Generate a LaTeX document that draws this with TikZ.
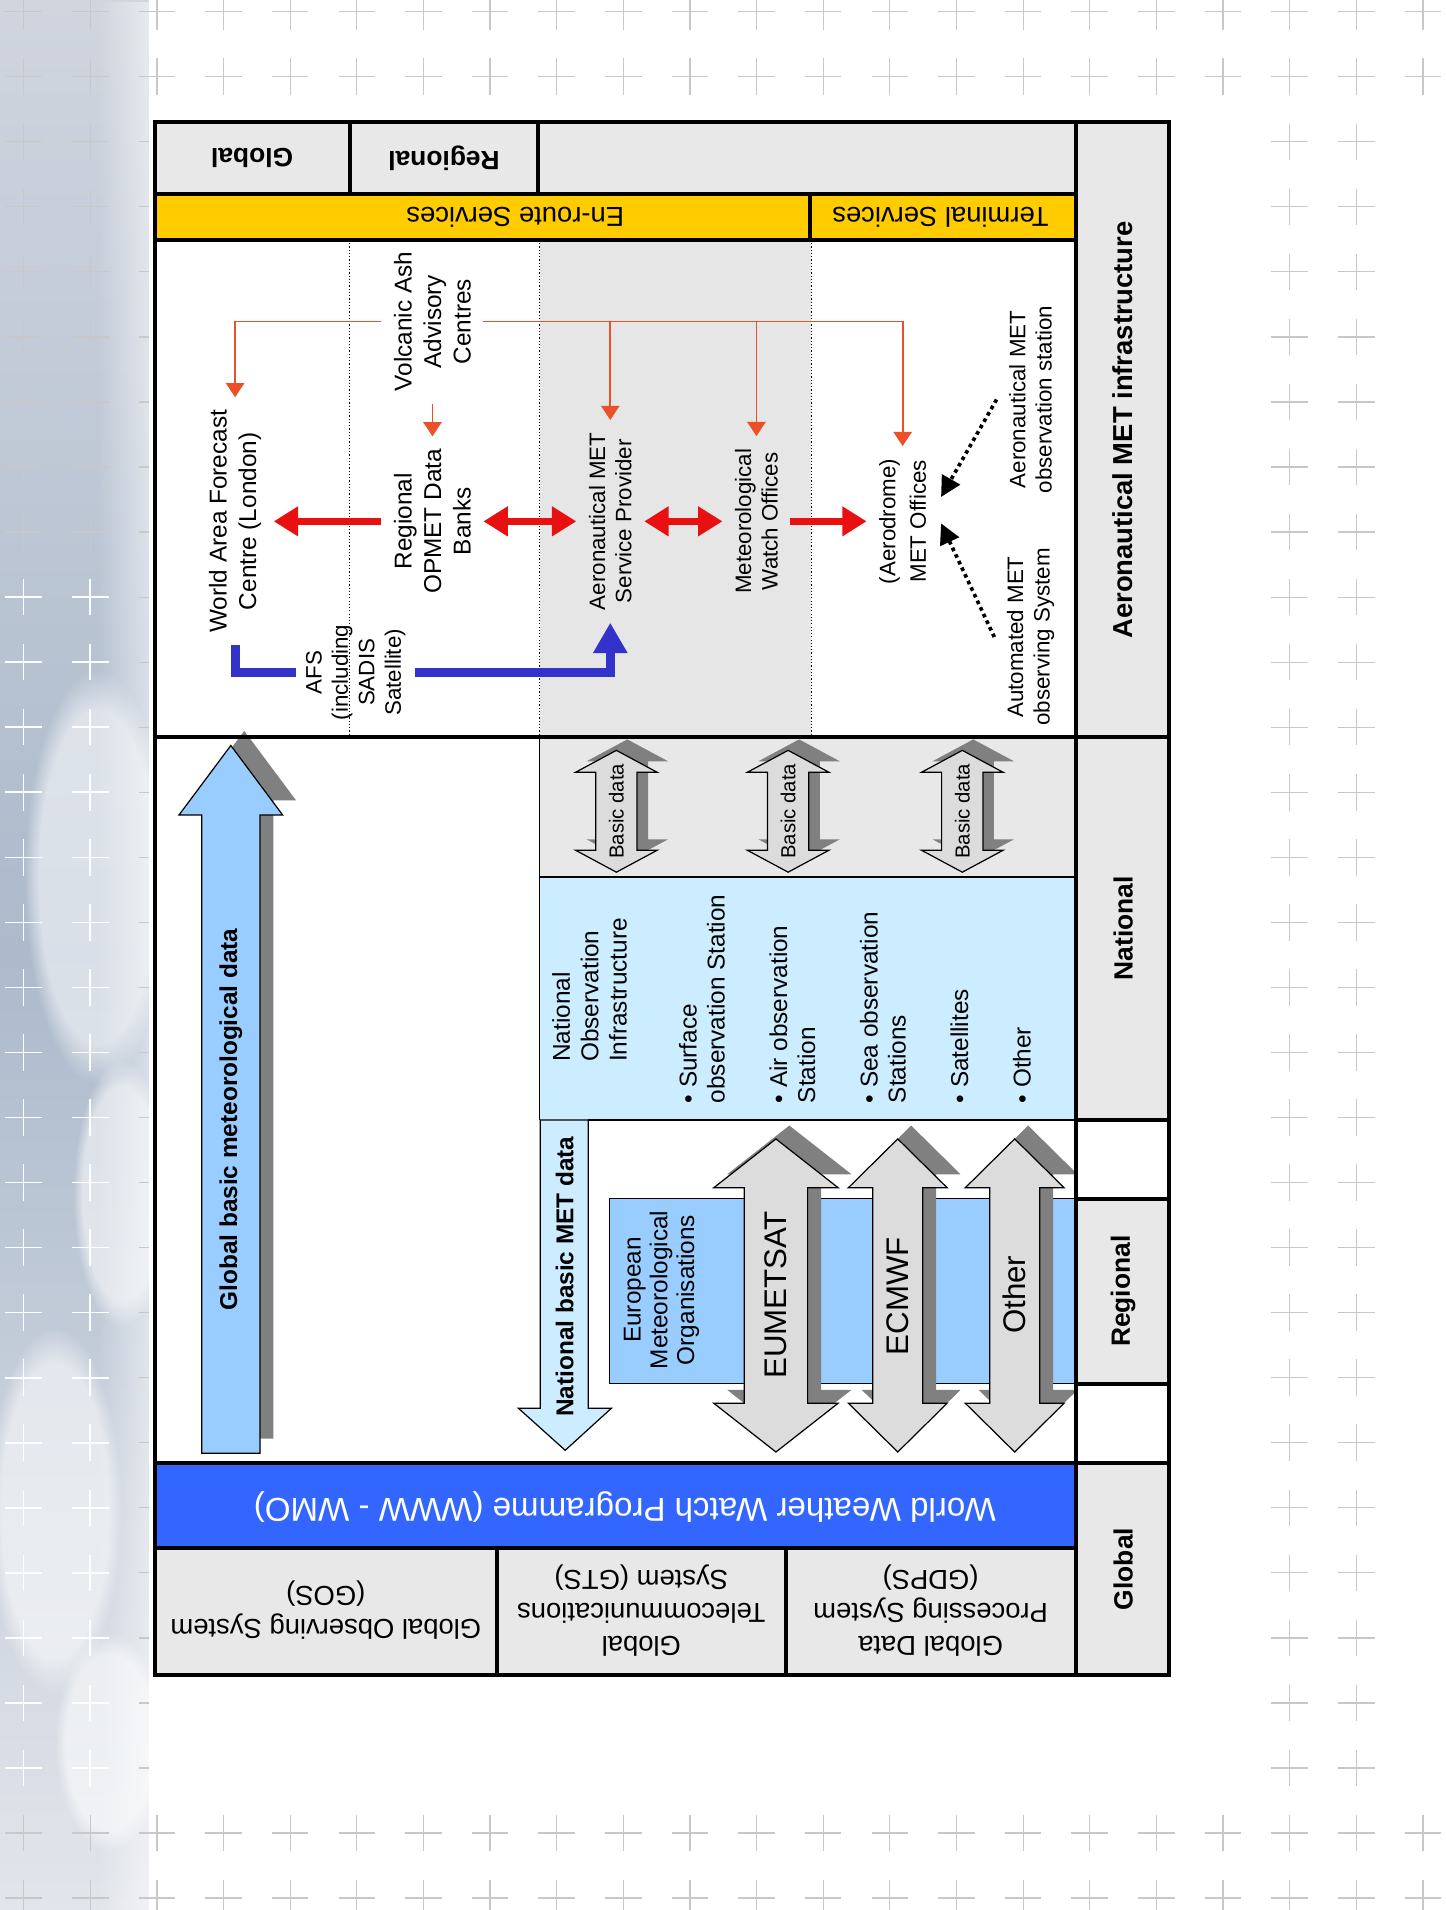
\documentclass[tikz,border=0pt]{standalone}
\usepackage{fontspec}
\setmainfont{Liberation Sans}
\usetikzlibrary{arrows.meta,calc,fadings}

\definecolor{cellgray}{RGB}{232,232,232}
\definecolor{zonegray}{RGB}{230,230,230}
\definecolor{lightsky}{RGB}{204,236,255}
\definecolor{midsky}{RGB}{153,204,255}
\definecolor{wwwblue}{RGB}{51,102,255}
\definecolor{servyellow}{RGB}{255,204,0}
\definecolor{arrowgray}{RGB}{220,220,220}
\definecolor{shadowgray}{RGB}{128,128,128}
\definecolor{thickred}{RGB}{232,16,16}
\definecolor{ashred}{RGB}{236,80,40}
\definecolor{afsblue}{RGB}{51,51,204}
\definecolor{crossgray}{RGB}{200,200,200}
\definecolor{stripTop}{RGB}{208,213,222}
\definecolor{stripMid}{RGB}{172,186,204}
\definecolor{stripBottom}{RGB}{226,229,235}

% double block arrow: centre x, top tip, bottom tip, half shaft, half head, head length
\newcommand{\dblblock}[6]{(#1,#2) -- ++(#5,#6) -- ++(#4-#5,0) -- (#1+#4,#3-#6) -- ++(#5-#4,0) -- (#1,#3) -- ++(-#5,-#6) -- ++(#5-#4,0) -- (#1-#4,#2+#6) -- ++(#4-#5,0) -- cycle}

\tikzset{
  cellrule/.style={line width=2pt},
  thinrule/.style={line width=0.6pt},
  zoneline/.style={line width=0.6pt, densely dotted},
  celltext/.style={font=\fontsize{13.5}{16.2}\selectfont, align=center},
  sidelabel/.style={rotate=90, font=\bfseries\fontsize{13}{15.6}\selectfont},
  textunit/.style={rotate=90, align=center, inner sep=6pt, font=\fontsize{12}{14.5}\selectfont},
  smallunit/.style={textunit, font=\fontsize{11}{13}\selectfont},
  redlink/.style={thickred, line width=3.3pt, -{Triangle[length=12pt,width=14pt]}},
  redboth/.style={redlink, {Triangle[length=12pt,width=14pt]}-{Triangle[length=12pt,width=14pt]}},
  ashlink/.style={ashred, line width=0.9pt, -{Triangle[length=7pt,width=9pt]}},
  afslink/.style={afsblue, line width=4.5pt},
  obslink/.style={black, line width=1.8pt, dash pattern=on 1.8pt off 1.8pt, -{Triangle[length=10pt,width=10pt]}},
  blockarrow/.style={draw=black, line width=0.6pt},
  dropgray/.style={fill=shadowgray},
  crossmark/.style={crossgray, line width=0.6pt},
  cloud/.style={white, opacity=0.55, path fading=circle with fuzzy edge 20 percent},
}

\begin{document}
\begin{tikzpicture}[x=0.6pt,y=-0.6pt]
\useasboundingbox (0,0) rectangle (1187,1568);

% page background
\fill[white] (0,0) rectangle (1187,1568);
\shade[top color=stripTop, bottom color=stripMid] (0,0) rectangle (122,784);
\shade[top color=stripMid, bottom color=stripBottom] (0,784) rectangle (122,1568);
\fill[cloud] (80,720) ellipse (60 and 170);
\fill[cloud] (100,980) ellipse (40 and 110);
\fill[cloud] (45,1240) ellipse (55 and 150);
\fill[cloud] (90,1430) ellipse (45 and 90);
\fill[white, opacity=0.5, path fading=west] (80,0) rectangle (122,1568);
\foreach \i in {0,...,21}
  \foreach \j in {0,...,29}
    \draw[crossmark] (19.4+54.7*\i-15,9.6+53.4*\j) -- ++(30,0) (19.4+54.7*\i,9.6+53.4*\j-15) -- ++(0,30);
\foreach \i in {0,1}
  \foreach \j in {9,...,27}
    \draw[white, line width=0.8pt] (19.4+54.7*\i-15,9.6+53.4*\j) -- ++(30,0) (19.4+54.7*\i,9.6+53.4*\j-15) -- ++(0,30);
\fill[white] (122,88) rectangle (1032,1483);
\fill[white] (1140,88) rectangle (1187,1483);

% cell fills
\fill[cellgray] (127,100) rectangle (883,159);
\fill[servyellow] (127,159) rectangle (883,197);
\fill[zonegray] (443,197) rectangle (666,605);
\fill[cellgray] (883,100) rectangle (960,605);
\fill[cellgray] (883,605) rectangle (960,919.5);
\fill[cellgray] (883,984) rectangle (960,1136);
\fill[cellgray] (883,1201) rectangle (960,1375);
\fill[cellgray] (443,605) rectangle (883,720);
\fill[lightsky] (443,720) rectangle (883,919.5);
\fill[wwwblue] (127,1201) rectangle (883,1271);
\fill[cellgray] (127,1271) rectangle (883,1375);
\draw[thinrule, fill=midsky] (500.5,984) rectangle (883,1136);
\draw[thinrule] (443,605) -- (443,919.5) (443,720) -- (883,720) (483,919.5) -- (883,919.5);
\draw[zoneline] (287,197) -- (287,605) (443,197) -- (443,605) (666,197) -- (666,605);

% header texts
\node[celltext, rotate=180, font=\bfseries\fontsize{13}{15.6}\selectfont] (topglobal) at (207,130) {Global};
\node[celltext, rotate=180, font=\bfseries\fontsize{13}{15.6}\selectfont] (topregional) at (364.5,130) {Regional};
\node[celltext, rotate=180] (enroute) at (423,178) {En-route Services};
\node[celltext, rotate=180] (terminal) at (772,178) {Terminal Services};
\node[sidelabel, font=\bfseries\fontsize{13.5}{16}\selectfont] (infra) at (922,353) {Aeronautical MET infrastructure};
\node[sidelabel] (national) at (922,762) {National};
\node[sidelabel] (regional) at (922,1060) {Regional};
\node[sidelabel] (global) at (922,1288) {Global};
\node[celltext, rotate=180, text=white, font=\fontsize{16.3}{19}\selectfont] (www) at (513,1237) {World Weather Watch Programme (WWW - WMO)};
\node[celltext, rotate=180] (gos) at (267.5,1322) {Global Observing System\\(GOS)};
\node[celltext, rotate=180] (gts) at (526.5,1322) {Global\\Telecommunications\\System (GTS)};
\node[celltext, rotate=180] (gdps) at (764,1322) {Global Data\\Processing System\\(GDPS)};

% aeronautical services
\node[textunit] (wafc) at (193,428) {World Area Forecast\\Centre (London)};
\node[textunit] (opmet) at (355,428) {Regional\\OPMET Data\\Banks};
\node[textunit] (vaac) at (355,264) {Volcanic Ash\\Advisory\\Centres};
\node[smallunit] (asp) at (501,428) {Aeronautical MET\\Service Provider};
\node[smallunit] (mwo) at (621,428) {Meteorological\\Watch Offices};
\node[smallunit, font=\fontsize{11}{15}\selectfont] (aero) at (741,428) {(Aerodrome)\\MET Offices};
\node[smallunit, inner sep=4.5pt] (afs) at (292,552) {AFS\\(including\\SADIS\\Satellite)};
\node[smallunit] (autoobs) at (846,523) {Automated MET\\observing System};
\node[smallunit] (aerobs) at (846,328) {Aeronautical MET\\observation station};

\draw[redlink] (opmet) -- (wafc);
\draw[redboth] (opmet) -- (asp);
\draw[redboth] (asp) -- (mwo);
\draw[redlink] (mwo) -- (aero);
\draw[ashlink] (vaac.north) -| (wafc.east);
\draw[ashlink] (vaac.west) -- (opmet.east);
\draw[ashlink] (vaac.south) -| (asp.east);
\draw[ashlink] (vaac.south) -| (mwo.east);
\draw[ashlink] (vaac.south) -| (aero.east);
\draw[afslink] (wafc.west) |- (afs.north);
\draw[afslink, -{Triangle[length=15pt,width=16pt]}] (afs.south) -| (asp.west);
\draw[obslink] (aerobs.north) -- ([xshift=1.2pt,yshift=12pt]aero.south);
\draw[obslink] (autoobs.north) -- ([xshift=1.2pt,yshift=-1pt]aero.south);

% national observation
\foreach \cx [count=\k] in {506,647,790} {
  \fill[dropgray] \dblblock{\cx+9}{607}{707}{17}{33.5}{18};
  \draw[blockarrow, fill=arrowgray] \dblblock{\cx}{616}{716}{17}{33.5}{18};
  \node[rotate=90, inner sep=0pt, font=\fontsize{10}{12}\selectfont] (basic\k) at (\cx,666) {Basic data};
}
\node[rotate=90, anchor=north west, align=left, inner sep=0pt, font=\fontsize{12}{14}\selectfont] (obshead) at (453,872) {National\\Observation\\Infrastructure};
\node[rotate=90, anchor=north west, align=left, inner sep=0pt, font=\fontsize{12}{13.8}\selectfont] (obslist) at (557,906) {• Surface\\observation Station\\[17pt]• Air observation\\Station\\[17pt]• Sea observation\\Stations\\[17pt]• Satellites\\[17pt]• Other};

% global basic data
\fill[dropgray] (200.5,600) -- (243,657) -- (224.5,657) -- (224.5,1181) -- (176.6,1181) -- (176.6,657) -- (158,657) -- cycle;
\draw[blockarrow, fill=midsky] (189.5,612) -- (232,669) -- (213.5,669) -- (213.5,1193) -- (165.6,1193) -- (165.6,669) -- (147,669) -- cycle;
\node[rotate=90, font=\bfseries\fontsize{12}{14}\selectfont] (globaldata) at (189.5,919) {Global basic meteorological data};

% national basic data
\draw[blockarrow, fill=lightsky] (443.5,919.5) -- (483,919.5) -- (483,1156) -- (502,1156) -- (464,1190.6) -- (425.5,1156) -- (443.5,1156) -- cycle;
\node[rotate=90, font=\bfseries\fontsize{12}{14}\selectfont] (nationaldata) at (463.5,1048) {National basic MET data};

% regional organisations
\node[textunit, inner sep=2pt, font=\fontsize{12}{13.2}\selectfont] (euro) at (543,1059) {European\\Meteorological\\Organisations};
\fill[dropgray] \dblblock{648}{924}{1181}{26}{51}{40};
\draw[blockarrow, fill=arrowgray] \dblblock{637}{935}{1192}{26}{51}{40};
\fill[dropgray] \dblblock{748}{924}{1181}{20.5}{40.5}{40};
\draw[blockarrow, fill=arrowgray] \dblblock{737}{935}{1192}{20.5}{40.5}{40};
\fill[dropgray] \dblblock{844}{924}{1181}{20.5}{40.5}{40};
\draw[blockarrow, fill=arrowgray] \dblblock{833}{935}{1192}{20.5}{40.5}{40};
\node[rotate=90, inner sep=0pt, font=\fontsize{15.4}{18}\selectfont] (eumetsat) at (637,1063) {EUMETSAT};
\node[rotate=90, inner sep=0pt, font=\fontsize{15.4}{18}\selectfont] (ecmwf) at (737,1064) {ECMWF};
\node[rotate=90, inner sep=0pt, font=\fontsize{15.4}{18}\selectfont] (otherorg) at (833,1063) {Other};

% frame
\draw[cellrule] (127,100) rectangle (960,1375);
\draw[cellrule] (883,100) -- (883,1375);
\draw[cellrule] (127,159) -- (883,159) (127,197) -- (883,197) (127,605) -- (960,605);
\draw[cellrule] (287,100) -- (287,159) (442,100) -- (442,159) (665,159) -- (665,197);
\draw[cellrule] (883,919.5) -- (960,919.5) (883,984) -- (960,984) (883,1136) -- (960,1136);
\draw[cellrule] (127,1201) -- (960,1201) (127,1271) -- (883,1271);
\draw[cellrule] (408,1271) -- (408,1375) (645,1271) -- (645,1375);
\end{tikzpicture}
\end{document}
